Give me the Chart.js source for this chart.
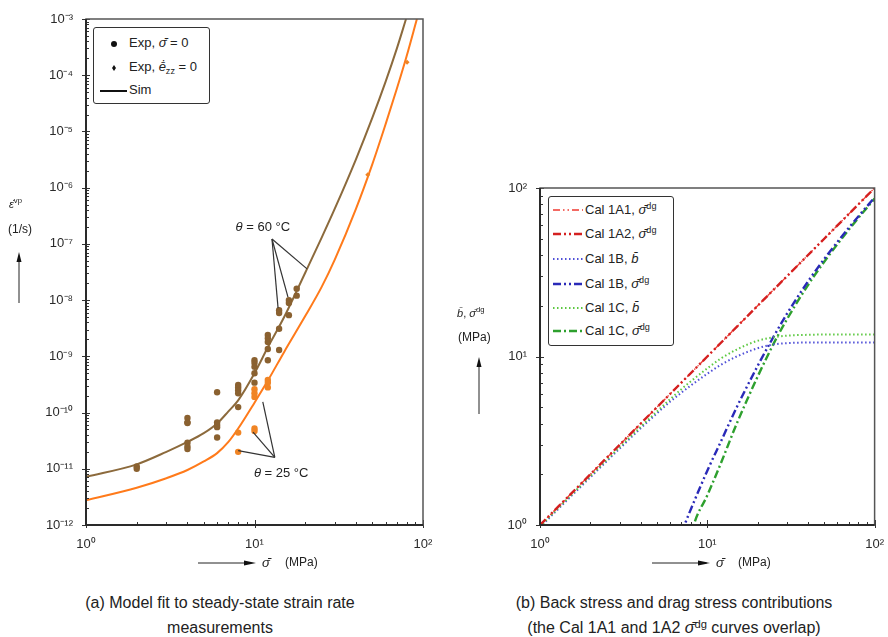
<!DOCTYPE html>
<html>
<head>
<meta charset="utf-8">
<script src="https://cdn.jsdelivr.net/npm/chart.js@4.4.1/dist/chart.umd.min.js"></script>
<style>
    body { margin: 0; width: 888px; height: 637px; overflow: hidden; background: #fff;
           font-family: "Liberation Sans", Arial, sans-serif; color: #222; position: relative; }
    .box { position: absolute; top: 0; }
    .abs { position: absolute; white-space: nowrap; }
    .legend { position: absolute; border: 1.5px solid #333; border-radius: 3px; background: #fff; }
    .row { position: absolute; height: 16px; line-height: 16px; font-size: 13px; }
    .dot { position: absolute; width: 6px; height: 6px; border-radius: 50%; background: #111; }
    .diam { position: absolute; width: 4px; height: 6px; background: #111; clip-path: polygon(50% 0, 100% 50%, 50% 100%, 0 50%); }
    sup { font-size: 70%; vertical-align: 5px; line-height: 0; }
    sub { font-size: 70%; vertical-align: -3px; line-height: 0; }
    .cap { position: absolute; text-align: center; font-size: 16px; line-height: 25px; }
</style>
</head>
<body>

<div class="box" style="left:0; width:440px; height:560px;"><canvas id="chartA" width="440" height="560"></canvas></div>
<div class="box" style="left:440px; width:448px; height:560px;"><canvas id="chartB" width="448" height="560"></canvas></div>

<!-- (a) legend -->
<div class="legend" style="left:93px; top:27px; width:115px; height:75px;">
    <span class="dot" style="left:17px; top:13px;"></span>
    <div class="row" style="left:35px; top:7px;">Exp, <i>σ̄̇</i> = 0</div>
    <span class="diam" style="left:18px; top:37px;"></span>
    <div class="row" style="left:35px; top:31px;">Exp, <i>ē̇</i><sub>zz</sub> = 0</div>
    <svg class="abs" style="left:6px; top:60px;" width="28" height="6"><line x1="0" y1="3" x2="27" y2="3" stroke="#111" stroke-width="2"/></svg>
    <div class="row" style="left:35px; top:54px;">Sim</div>
</div>

<!-- (b) legend -->
<div class="legend" style="left:548px; top:196px; width:124px; height:148px;">
    <svg class="abs" style="left:4px; top:8px;" width="31" height="132">
        <line x1="0" y1="5" x2="30" y2="5" stroke="#f03a30" stroke-width="1.3" stroke-dasharray="7 3 1.5 3 1.5 3"/>
        <line x1="0" y1="29" x2="30" y2="29" stroke="#d42020" stroke-width="2.4" stroke-dasharray="8 3 2 3 2 3"/>
        <line x1="0" y1="54" x2="30" y2="54" stroke="#5050d8" stroke-width="2" stroke-dasharray="1.5 2.5"/>
        <line x1="0" y1="79" x2="30" y2="79" stroke="#2a2ab8" stroke-width="2.4" stroke-dasharray="8 3 2 3 2 3"/>
        <line x1="0" y1="103" x2="30" y2="103" stroke="#5cc840" stroke-width="2" stroke-dasharray="1.5 2.5"/>
        <line x1="0" y1="126" x2="30" y2="126" stroke="#2ea02e" stroke-width="2.4" stroke-dasharray="8 3 2 3"/>
    </svg>
    <div class="row" style="left:36px; top:5px;">Cal 1A1, <i>σ̄</i><sup>dg</sup></div>
    <div class="row" style="left:36px; top:29px;">Cal 1A2, <i>σ̄</i><sup>dg</sup></div>
    <div class="row" style="left:36px; top:54px;">Cal 1B, <i>b̄</i></div>
    <div class="row" style="left:36px; top:79px;">Cal 1B, <i>σ̄</i><sup>dg</sup></div>
    <div class="row" style="left:36px; top:103px;">Cal 1C, <i>b̄</i></div>
    <div class="row" style="left:36px; top:126px;">Cal 1C, <i>σ̄</i><sup>dg</sup></div>
</div>

<!-- axis titles (a) -->
<div class="abs" style="left:9px; top:198px; font-size:11px;"><i>ε̇</i><sup>vp</sup></div>
<div class="abs" style="left:8px; top:222px; font-size:12px;">(1/s)</div>
<svg class="abs" style="left:14px; top:250px;" width="10" height="54"><line x1="5" y1="53" x2="5" y2="10" stroke="#222" stroke-width="1"/><polygon points="5,2 2.5,12 7.5,12" fill="#111"/></svg>
<svg class="abs" style="left:196px; top:558px;" width="64" height="10"><line x1="2" y1="5" x2="50" y2="5" stroke="#222" stroke-width="1"/><polygon points="60,5 48,2.5 48,7.5" fill="#111"/></svg>
<div class="abs" style="left:262px; top:555px; font-size:13px;"><i>σ̄</i></div>
<div class="abs" style="left:285px; top:555px; font-size:12px;">(MPa)</div>

<!-- axis titles (b) -->
<div class="abs" style="left:457px; top:307px; font-size:11px;"><i>b̄</i>, <i>σ̄</i><sup>dg</sup></div>
<div class="abs" style="left:458px; top:330px; font-size:12px;">(MPa)</div>
<svg class="abs" style="left:474px; top:355px;" width="10" height="60"><line x1="5" y1="59" x2="5" y2="10" stroke="#222" stroke-width="1"/><polygon points="5,2 2.5,12 7.5,12" fill="#111"/></svg>
<svg class="abs" style="left:650px; top:558px;" width="64" height="10"><line x1="2" y1="5" x2="50" y2="5" stroke="#222" stroke-width="1"/><polygon points="60,5 48,2.5 48,7.5" fill="#111"/></svg>
<div class="abs" style="left:716px; top:555px; font-size:13px;"><i>σ̄</i></div>
<div class="abs" style="left:738px; top:555px; font-size:12px;">(MPa)</div>

<!-- captions -->
<div class="cap" style="left:0; width:440px; top:590px;">(a) Model fit to steady-state strain rate<br>measurements</div>
<div class="cap" style="left:470px; width:408px; top:590px;">(b) Back stress and drag stress contributions<br>(the Cal 1A1 and 1A2 <i>σ̄</i><sup>dg</sup> curves overlap)</div>

<script>
// ---- tick labels ----
const xTickLabels = ['10⁰', '10¹', '10²'];
const aYTickLabels = ['10⁻¹²', '10⁻¹¹', '10⁻¹⁰', '10⁻⁹', '10⁻⁸', '10⁻⁷', '10⁻⁶', '10⁻⁵', '10⁻⁴', '10⁻³'];
const bYTickLabels = ['10⁰', '10¹', '10²'];

// ---- (a) simulated strain rate curves ----
const simStress60 = [1, 2, 3, 4, 5, 6, 7, 8, 10, 12, 15, 20, 25, 30, 40, 50, 60, 70, 79.3];
const simRate60 = [7.2e-12, 1.2e-11, 2.0e-11, 3.0e-11, 4.3e-11, 6.4e-11, 1.05e-10, 1.65e-10, 5.0e-10, 1.45e-9, 5.0e-9, 3.07e-8, 1.28e-7, 4.27e-7, 3.2e-6, 1.74e-5, 7.7e-5, 3.0e-4, 1e-3];
const simStress25 = [1, 2, 3, 4, 5, 6, 7, 8, 10, 12, 15, 20, 25, 30, 40, 50, 60, 70, 80, 92];
const simRate25 = [2.75e-12, 4.6e-12, 6.8e-12, 9.5e-12, 1.35e-11, 1.9e-11, 3.0e-11, 5.2e-11, 1.5e-10, 3.7e-10, 1.2e-9, 5.2e-9, 1.7e-8, 5.3e-8, 4.2e-7, 2.6e-6, 1.35e-5, 5.8e-5, 2.2e-4, 1e-3];

// ---- (a) measurements ----
const expStress60 = [2, 2, 4, 4, 4, 4, 4, 4, 6, 6, 6, 6, 6, 8, 8, 8, 8, 8, 10, 10, 10, 10, 10, 12, 12, 12, 12, 12, 14, 14, 14, 14, 16, 16, 16, 17.8, 17.8];
const expRate60 = [1.0e-11, 1.1e-11, 8e-11, 6.7e-11, 6.5e-11, 2.9e-11, 2.5e-11, 2.25e-11, 2.3e-10, 6.7e-11, 6e-11, 5.5e-11, 3.6e-11, 3.1e-10, 2.8e-10, 2.5e-10, 2.2e-10, 1.25e-10, 8.5e-10, 7.6e-10, 6.5e-10, 5e-10, 3.4e-10, 2.4e-9, 2.1e-9, 1.8e-9, 1.35e-9, 8.5e-10, 6.6e-9, 5.9e-9, 3.1e-9, 1.3e-9, 1e-8, 8.9e-9, 5.4e-9, 1.6e-8, 1.2e-8];
const expStress25 = [8, 8, 10, 10, 10, 10, 10, 12, 12, 12];
const expRate25 = [4.4e-11, 2e-11, 2.6e-10, 2.2e-10, 1.9e-10, 5.2e-11, 4.7e-11, 3.8e-10, 3.4e-10, 2.8e-10];
const expZzStress25 = [47, 80.4];
const expZzRate25 = [1.7e-6, 1.7e-4];

// ---- (a) annotations (data units) ----
const note60 = { x: 11.2, y: 2e-7, text: ' = 60 °C' };
const note60Hub = { x: 12.7, y: 1.22e-7 };
const note60Ends = [[13.8, 7.2e-9], [15.8, 1.13e-8], [20.5, 3.6e-8]];
const note25 = { x: 14.4, y: 8.3e-12, text: ' = 25 °C' };
const note25Hub = { x: 13.2, y: 1.6e-11 };
const note25Ends = [[8.0, 2.1e-11], [9.8, 4.5e-11], [11.2, 1.55e-10]];

// ---- (b) back stress / drag stress ----
const stressA = [1, 2, 5, 10, 20, 50, 100];
const cal1A1Dg = [1, 2, 5, 10, 20, 50, 100];
const cal1A2Dg = [1, 2, 5, 10, 20, 50, 100];
const stressBack = [1, 1.5, 2, 3, 4, 5, 6, 7, 8, 10, 12, 15, 20, 25, 30, 40, 50, 70, 100];
const cal1BBack = [0.97, 1.45, 1.92, 2.85, 3.75, 4.6, 5.4, 6.1, 6.75, 7.9, 8.9, 10.0, 11.2, 11.8, 12.0, 12.1, 12.1, 12.1, 12.1];
const cal1CBack = [0.98, 1.47, 1.95, 2.9, 3.83, 4.72, 5.58, 6.4, 7.15, 8.5, 9.7, 11.0, 12.4, 13.0, 13.3, 13.45, 13.5, 13.5, 13.5];
const stress1BDg = [7, 7.3, 8, 10, 12, 15, 20, 25, 30, 40, 50, 70, 100];
const cal1BDg = [0.9, 1.0, 1.25, 2.1, 3.1, 5.0, 8.8, 13.2, 18.0, 27.9, 37.9, 57.9, 87.9];
const stress1CDg = [8, 8.3, 10, 12, 15, 20, 25, 30, 40, 50, 70, 100];
const cal1CDg = [0.85, 1.0, 1.5, 2.3, 4.0, 7.6, 12.0, 16.7, 26.55, 36.5, 56.5, 86.5];

Chart.defaults.font.family = '"Liberation Sans", Arial, sans-serif';
Chart.defaults.color = '#333';

// --- helpers ---
function pairs(xs, ys) {
    return xs.map((x, i) => ({ x: x, y: ys[i] }));
}

function logTicks(axis, lo, hi) {
    const ticks = [];
    for (let e = lo; e <= hi; e++) {
        for (let m = 1; m <= 9; m++) {
            if (e === hi && m > 1) break;
            ticks.push({ value: m * Math.pow(10, e), major: m === 1 });
        }
    }
    axis.ticks = ticks;
}

function decadeLabel(labels, lo) {
    return (v) => {
        const l = Math.log10(v);
        const e = Math.round(l);
        return Math.abs(l - e) < 1e-6 ? labels[e - lo] : '';
    };
}

function logAxis(lo, hi, labels, isX) {
    return {
        type: 'logarithmic',
        min: Math.pow(10, lo),
        max: Math.pow(10, hi),
        grid: { display: false },
        border: { display: false },
        afterBuildTicks: (axis) => logTicks(axis, lo, hi),
        ticks: {
            autoSkip: false,
            maxRotation: 0,
            padding: isX ? 4 : 5,
            font: { size: 13 },
            color: '#2a2a2a',
            callback: decadeLabel(labels, lo)
        }
    };
}

// frame + tick marks
const frame = {
    id: 'frame',
    afterDraw(chart) {
        const { ctx, chartArea: a, scales } = chart;
        ctx.save();
        ctx.strokeStyle = '#333';
        ctx.lineWidth = 1;
        scales.x.ticks.forEach(t => {
            const p = Math.round(scales.x.getPixelForValue(t.value)) + 0.5;
            ctx.beginPath();
            ctx.moveTo(p, a.bottom + (t.major ? 3 : 0));
            ctx.lineTo(p, a.bottom - (t.major ? 5 : 3));
            ctx.stroke();
        });
        scales.y.ticks.forEach(t => {
            const p = Math.round(scales.y.getPixelForValue(t.value)) + 0.5;
            ctx.beginPath();
            ctx.moveTo(a.left - (t.major ? 4 : 0), p);
            ctx.lineTo(a.left + (t.major ? 4 : 3), p);
            ctx.stroke();
        });
        ctx.strokeStyle = '#555';
        ctx.lineWidth = 1.5;
        ctx.strokeRect(a.left, a.top, a.right - a.left, a.bottom - a.top);
        ctx.strokeStyle = '#2a2a2a';
        ctx.lineWidth = 2;
        ctx.beginPath();
        ctx.moveTo(a.left, a.top);
        ctx.lineTo(a.left, a.bottom);
        ctx.lineTo(a.right, a.bottom);
        ctx.stroke();
        ctx.restore();
    }
};

// temperature callouts on (a)
const callouts = {
    id: 'callouts',
    afterDatasetsDraw(chart) {
        const { ctx, scales: { x, y } } = chart;
        const px = (v) => x.getPixelForValue(v);
        const py = (v) => y.getPixelForValue(v);
        ctx.save();
        ctx.strokeStyle = '#333';
        ctx.lineWidth = 1.2;
        [[note60Hub, note60Ends], [note25Hub, note25Ends]].forEach(([hub, ends]) => {
            ends.forEach(([ex, ey]) => {
                ctx.beginPath();
                ctx.moveTo(px(hub.x), py(hub.y));
                ctx.lineTo(px(ex), py(ey));
                ctx.stroke();
            });
        });
        ctx.fillStyle = '#222';
        ctx.textBaseline = 'middle';
        [note60, note25].forEach(n => {
            ctx.font = '13px "Liberation Sans", Arial, sans-serif';
            const rest = ctx.measureText(n.text).width;
            ctx.font = 'italic 13px "Liberation Sans", Arial, sans-serif';
            const th = ctx.measureText('θ').width;
            const left = px(n.x) - (th + rest) / 2;
            ctx.fillText('θ', left, py(n.y));
            ctx.font = '13px "Liberation Sans", Arial, sans-serif';
            ctx.fillText(n.text, left + th, py(n.y));
        });
        ctx.restore();
    }
};

const brown = '#8c6a3c';
const orange = '#ff7a1a';

new Chart(document.getElementById('chartA'), {
    type: 'scatter',
    data: {
        datasets: [
            { label: 'Exp 60', data: pairs(expStress60, expRate60), backgroundColor: '#8a6130', borderWidth: 0, pointRadius: 3.2, order: 0 },
            { label: 'Exp 25', data: pairs(expStress25, expRate25), backgroundColor: '#f08424', borderWidth: 0, pointRadius: 3.2, order: 0 },
            { label: 'Exp zz 25', data: pairs(expZzStress25, expZzRate25), pointStyle: 'rectRot', backgroundColor: '#f08424', borderWidth: 0, pointRadius: 2.5, order: 0 },
            { label: 'Sim 60', data: pairs(simStress60, simRate60), showLine: true, borderColor: brown, borderWidth: 2, pointRadius: 0, cubicInterpolationMode: 'monotone', order: 1 },
            { label: 'Sim 25', data: pairs(simStress25, simRate25), showLine: true, borderColor: orange, borderWidth: 2, pointRadius: 0, cubicInterpolationMode: 'monotone', order: 1 }
        ]
    },
    options: {
        responsive: false,
        animation: false,
        layout: { padding: { left: 0, top: 19, right: 17, bottom: 0 } },
        plugins: { legend: { display: false }, tooltip: { enabled: false } },
        scales: {
            x: Object.assign(logAxis(0, 2, xTickLabels, true), { afterFit: (s) => { s.height = 35; } }),
            y: Object.assign(logAxis(-12, -3, aYTickLabels, false), { afterFit: (s) => { s.width = 86; } })
        }
    },
    plugins: [frame, callouts]
});

const lineStyle = (color, width, dash) => ({
    showLine: true, borderColor: color, borderWidth: width, borderDash: dash,
    pointRadius: 0, cubicInterpolationMode: 'monotone', fill: false
});

new Chart(document.getElementById('chartB'), {
    type: 'scatter',
    data: {
        datasets: [
            Object.assign({ label: 'Cal 1A2, dg', data: pairs(stressA, cal1A2Dg) }, lineStyle('#d42020', 2.4, [8, 3, 2, 3, 2, 3])),
            Object.assign({ label: 'Cal 1A1, dg', data: pairs(stressA, cal1A1Dg) }, lineStyle('#f03a30', 1.3, [7, 3, 1.5, 3, 1.5, 3])),
            Object.assign({ label: 'Cal 1C, b', data: pairs(stressBack, cal1CBack) }, lineStyle('#5cc840', 2, [1.5, 2.5])),
            Object.assign({ label: 'Cal 1B, b', data: pairs(stressBack, cal1BBack) }, lineStyle('#5050d8', 2, [1.5, 2.5])),
            Object.assign({ label: 'Cal 1B, dg', data: pairs(stress1BDg, cal1BDg) }, lineStyle('#2a2ab8', 2.4, [8, 3, 2, 3, 2, 3])),
            Object.assign({ label: 'Cal 1C, dg', data: pairs(stress1CDg, cal1CDg) }, lineStyle('#2ea02e', 2.4, [8, 3, 2, 3]))
        ]
    },
    options: {
        responsive: false,
        animation: false,
        layout: { padding: { left: 0, top: 188, right: 11, bottom: 0 } },
        plugins: { legend: { display: false }, tooltip: { enabled: false } },
        scales: {
            x: Object.assign(logAxis(0, 2, xTickLabels, true), { afterFit: (s) => { s.height = 35; } }),
            y: Object.assign(logAxis(0, 2, bYTickLabels, false), { afterFit: (s) => { s.width = 100; } })
        }
    },
    plugins: [frame]
});
</script>
</body>
</html>
